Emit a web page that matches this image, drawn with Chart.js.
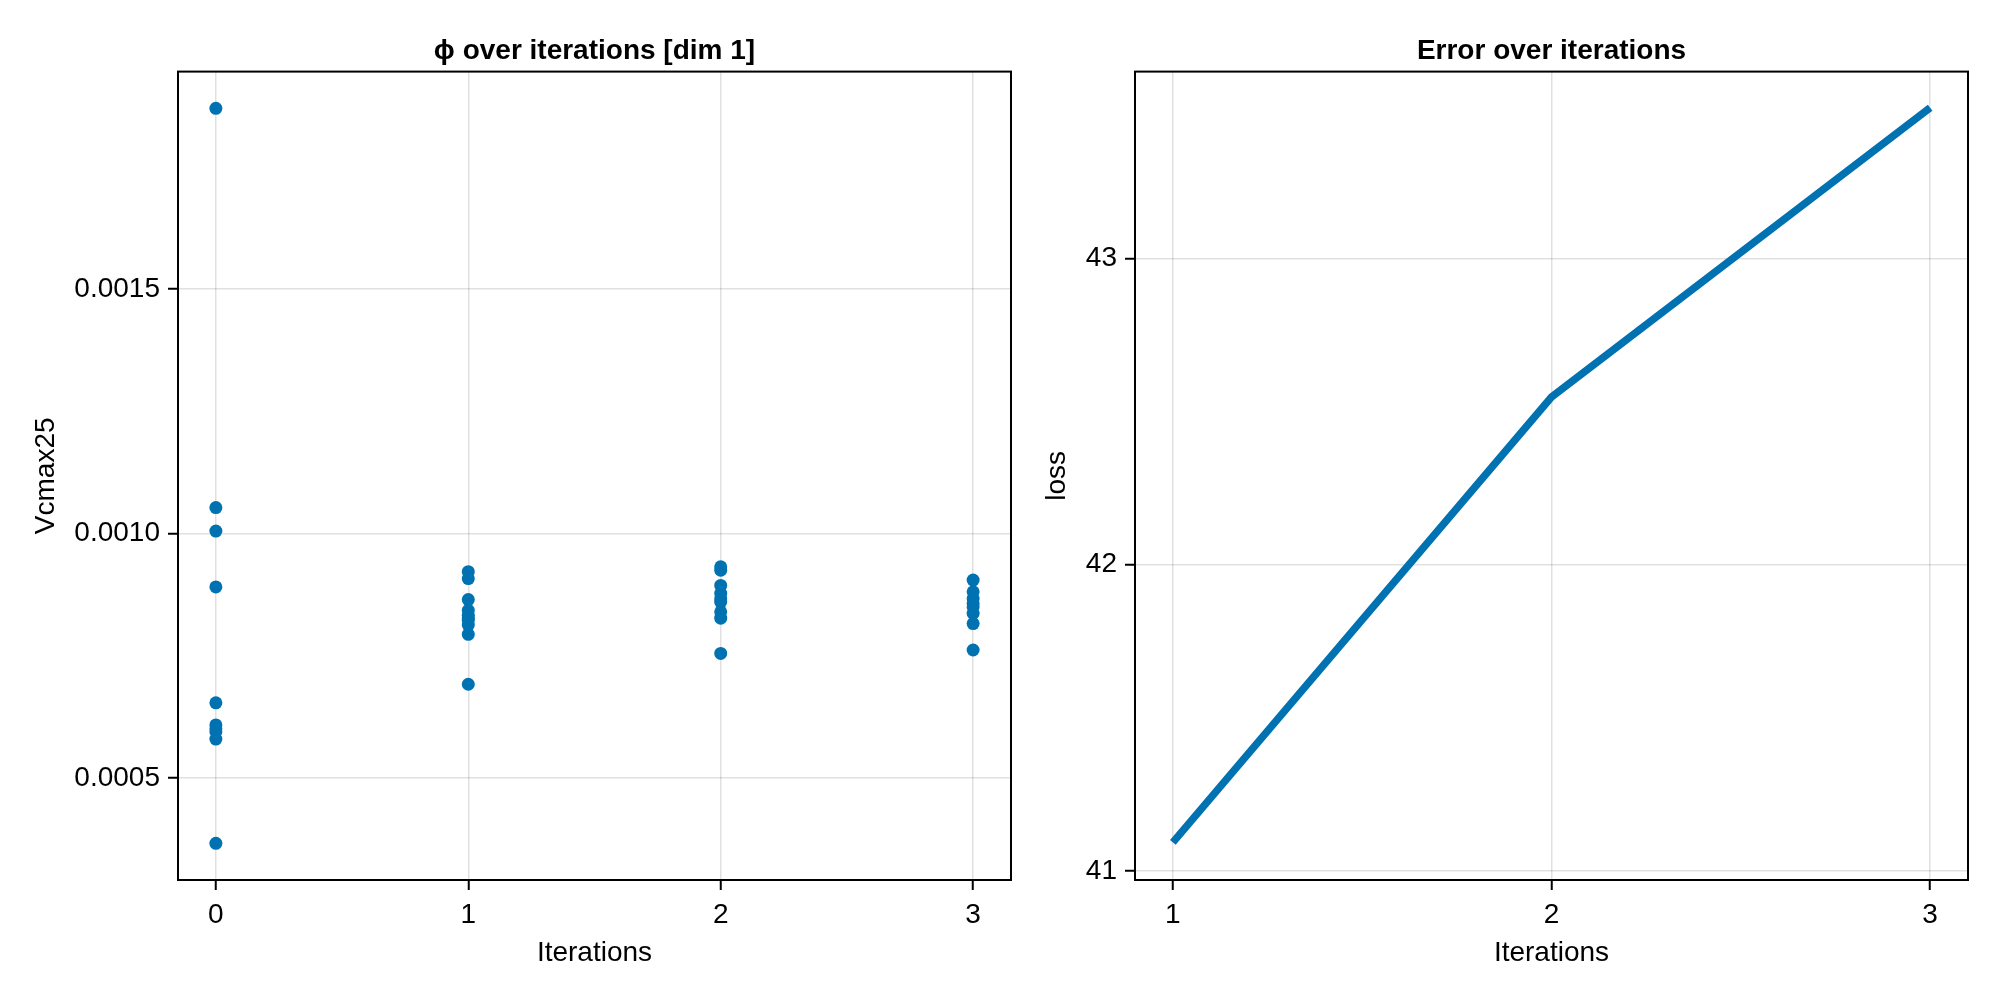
<!DOCTYPE html>
<html>
<head>
<meta charset="utf-8">
<script src="https://cdn.jsdelivr.net/npm/chart.js@4.4.0/dist/chart.umd.min.js"></script>
<style>
  html, body { margin: 0; padding: 0; background: #fff; }
  #wrap { position: relative; width: 2000px; height: 1000px; }
  .box { position: absolute; top: 0; height: 1000px; }
</style>
</head>
<body>
<div id="wrap">
  <div class="box" style="left:0; width:1040px;"><canvas id="phiChart"></canvas></div>
  <div class="box" style="left:1040px; width:960px;"><canvas id="errChart"></canvas></div>
</div>
<script>
// values
var iterations = [0, 1, 2, 3];
var phiIter0 = [0.001869, 0.001053, 0.001005, 0.000891, 0.000654, 0.000609, 0.000601, 0.000595, 0.000580, 0.000367];
var phiIter1 = [0.000922, 0.000908, 0.000865, 0.000843, 0.000833, 0.000828, 0.000823, 0.000813, 0.000794, 0.000692];
var phiIter2 = [0.000932, 0.000925, 0.000894, 0.000878, 0.000867, 0.000860, 0.000840, 0.000827, 0.000755];
var phiIter3 = [0.000905, 0.000881, 0.000867, 0.000857, 0.000850, 0.000837, 0.000816, 0.000762];
var phiTicks = [0.0005, 0.0010, 0.0015];

var lossIterations = [1, 2, 3];
var lossValues = [41.093, 42.547, 43.492];
var lossTicks = [41, 42, 43];

var blue = 'rgb(0, 114, 178)';
var fontFamily = '"Liberation Sans", Arial, Helvetica, sans-serif';
var gridColor = 'rgba(0, 0, 0, 0.12)';

Chart.defaults.color = '#000';
Chart.defaults.font.family = fontFamily;
Chart.defaults.font.size = 28;
Chart.defaults.animation = false;

// draw the full box round the plot area
var frame = {
  id: 'frame',
  afterDatasetsDraw: function(chart) {
    var a = chart.chartArea;
    var ctx = chart.ctx;
    ctx.save();
    ctx.strokeStyle = '#000';
    ctx.lineWidth = 2;
    ctx.strokeRect(a.left, a.top, a.right - a.left, a.bottom - a.top);
    ctx.restore();
  }
};

function fixedTicks(values) {
  return function(scale) {
    scale.ticks = values.map(function(v) { return { value: v }; });
  };
}

function axisOpts(extra) {
  var o = {
    type: 'linear',
    grid: { color: gridColor, lineWidth: 1.5, tickColor: '#000', tickLength: 10, tickWidth: 2 },
    border: { display: true, color: '#000', width: 2 },
    ticks: { padding: 8, font: { size: 28 } }
  };
  for (var k in extra) o[k] = extra[k];
  return o;
}

var phiPoints = [];
var groups = [phiIter0, phiIter1, phiIter2, phiIter3];
for (var g = 0; g < groups.length; g++) {
  for (var j = 0; j < groups[g].length; j++) {
    phiPoints.push({ x: iterations[g], y: groups[g][j] });
  }
}

new Chart(document.getElementById('phiChart'), {
  type: 'scatter',
  data: {
    datasets: [{
      data: phiPoints,
      backgroundColor: blue,
      borderColor: blue,
      pointRadius: 6.5,
      pointBorderWidth: 0
    }]
  },
  options: {
    responsive: true,
    maintainAspectRatio: false,
    layout: { padding: { right: 29 } },
    plugins: {
      legend: { display: false },
      tooltip: { enabled: false },
      title: {
        display: true,
        fullSize: false,
        text: 'ϕ over iterations [dim 1]',
        font: { size: 28, weight: 'bold' },
        padding: { top: 34, bottom: 4 }
      }
    },
    scales: {
      x: axisOpts({
        min: -0.15, max: 3.15,
        afterBuildTicks: fixedTicks(iterations),
        afterFit: function(s) { s.height = 120; },
        title: { display: true, text: 'Iterations', font: { size: 28 }, padding: { top: 0, bottom: 30 } }
      }),
      y: axisOpts({
        min: 0.000292, max: 0.001944,
        afterBuildTicks: fixedTicks(phiTicks),
        afterFit: function(s) { s.width = 178; },
        ticks: { padding: 8, font: { size: 28 }, callback: function(v) { return v.toFixed(4); } },
        title: { display: true, text: 'Vcmax25', font: { size: 28 }, padding: { top: 29, bottom: 0 } }
      })
    }
  },
  plugins: [frame]
});

new Chart(document.getElementById('errChart'), {
  type: 'line',
  data: {
    datasets: [{
      data: lossIterations.map(function(x, i) { return { x: x, y: lossValues[i] }; }),
      borderColor: blue,
      borderWidth: 7.5,
      borderCapStyle: 'butt',
      pointRadius: 0,
      fill: false,
      tension: 0
    }]
  },
  options: {
    responsive: true,
    maintainAspectRatio: false,
    layout: { padding: { right: 32 } },
    plugins: {
      legend: { display: false },
      tooltip: { enabled: false },
      title: {
        display: true,
        fullSize: false,
        text: 'Error over iterations',
        font: { size: 28, weight: 'bold' },
        padding: { top: 34, bottom: 4 }
      }
    },
    scales: {
      x: axisOpts({
        min: 0.9, max: 3.1,
        afterBuildTicks: fixedTicks(lossIterations),
        afterFit: function(s) { s.height = 120; },
        title: { display: true, text: 'Iterations', font: { size: 28 }, padding: { top: 0, bottom: 30 } }
      }),
      y: axisOpts({
        min: 40.97, max: 43.61,
        afterBuildTicks: fixedTicks(lossTicks),
        afterFit: function(s) { s.width = 95; },
        title: { display: true, text: 'loss', font: { size: 28 }, padding: { top: 0, bottom: 0 } }
      })
    }
  },
  plugins: [frame]
});
</script>
</body>
</html>
